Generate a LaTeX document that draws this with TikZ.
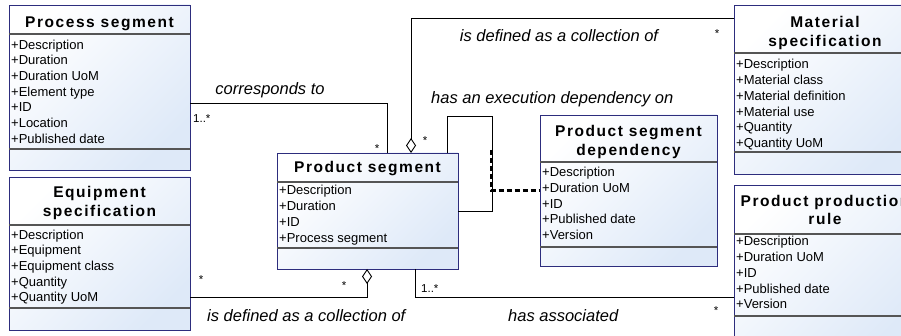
\documentclass[tikz,border=0pt]{standalone}
\usepackage{fontspec}
\setmainfont{Liberation Sans}
\newfontfamily\ttlface{Liberation Sans}[LetterSpace=10]
\usetikzlibrary{arrows.meta}
\definecolor{boxline}{RGB}{45,45,125}
\definecolor{boxblue}{RGB}{222,233,248}
\definecolor{sepgray}{RGB}{85,85,85}
\begin{document}
\begin{tikzpicture}[x=1pt,y=-1pt,
  classbox/.style={draw=boxline, line width=0.9pt, top color=white, bottom color=boxblue, shading angle=45, inner sep=0pt, outer sep=0pt, anchor=north west},
  ttl/.style={font=\ttlface\bfseries\fontsize{15.5}{18}\selectfont, anchor=base, inner sep=0pt},
  attr/.style={font=\fontsize{13}{15}\selectfont, anchor=base west, inner sep=0pt},
  lbl/.style={font=\itshape\fontsize{16.5}{19}\selectfont, anchor=base, inner sep=0pt},
  mult/.style={font=\fontsize{11.5}{13}\selectfont, inner sep=0pt},
  sepline/.style={draw=sepgray, line width=1.1pt},
  conn/.style={draw=black, line width=0.9pt},
  agg/.style={conn, -{Diamond[open, length=15pt, width=10pt, line width=0.9pt]}},
  dep/.style={draw=black, line width=2.2pt, dash pattern=on 5pt off 3pt},
]
\useasboundingbox (0,0) rectangle (901,336);
\clip (0,0) rectangle (901,336);

% ---------- Process segment ----------
\node[classbox, minimum width=181pt, minimum height=165pt] (ps) at (9,5) {};
\node[ttl] (ps-t) at (99.5,28) {Process segment};
\draw[sepline] (ps.west |- 0,34) -- (ps.east |- 0,34);
\foreach \t [count=\i from 0] in {+Description,+Duration,+Duration UoM,+Element type,+ID,+Location,+Published date}
  \node[attr] (ps-a\i) at (11,49.3+15.67*\i) {\t};
\draw[sepline] (ps.west |- 0,149) -- (ps.east |- 0,149);

% ---------- Equipment specification ----------
\node[classbox, minimum width=181pt, minimum height=153pt] (es) at (9,177) {};
\node[ttl] (es-t1) at (99.5,198) {Equipment};
\node[ttl] (es-t2) at (99.5,217) {specification};
\draw[sepline] (es.west |- 0,225) -- (es.east |- 0,225);
\foreach \t [count=\i from 0] in {+Description,+Equipment,+Equipment class,+Quantity,+Quantity UoM}
  \node[attr] (es-a\i) at (11,239.3+15.67*\i) {\t};
\draw[sepline] (es.west |- 0,308) -- (es.east |- 0,308);

% ---------- Product segment ----------
\node[classbox, minimum width=181pt, minimum height=116pt] (pseg) at (277,153) {};
\node[ttl] (pseg-t) at (367.5,173) {Product segment};
\draw[sepline] (pseg.west |- 0,182) -- (pseg.east |- 0,182);
\foreach \t [count=\i from 0] in {+Description,+Duration,+ID,+Process segment}
  \node[attr] (pseg-a\i) at (279,195+15.67*\i) {\t};
\draw[sepline] (pseg.west |- 0,248) -- (pseg.east |- 0,248);

% ---------- Product segment dependency ----------
\node[classbox, minimum width=177pt, minimum height=151pt] (dep) at (540,115) {};
\node[ttl] (dep-t1) at (628.5,137) {Product segment};
\node[ttl] (dep-t2) at (628.5,156) {dependency};
\draw[sepline] (dep.west |- 0,162) -- (dep.east |- 0,162);
\foreach \t [count=\i from 0] in {+Description,+Duration UoM,+ID,+Published date,+Version}
  \node[attr] (dep-a\i) at (542,176.7+15.67*\i) {\t};
\draw[sepline] (dep.west |- 0,247) -- (dep.east |- 0,247);

% ---------- Material specification ----------
\node[classbox, minimum width=182pt, minimum height=169pt] (mat) at (734,5) {};
\node[ttl] (mat-t1) at (825,28) {Material};
\node[ttl] (mat-t2) at (825,47) {specification};
\draw[sepline] (mat.west |- 0,53) -- (mat.east |- 0,53);
\foreach \t [count=\i from 0] in {+Description,+Material class,+Material definition,+Material use,+Quantity,+Quantity UoM}
  \node[attr] (mat-a\i) at (736,69+15.67*\i) {\t};
\draw[sepline] (mat.west |- 0,152) -- (mat.east |- 0,152);

% ---------- Product production rule ----------
\node[classbox, minimum width=182pt, minimum height=170pt] (prr) at (734,185) {};
\node[ttl] (prr-t1) at (825,207) {Product production};
\node[ttl] (prr-t2) at (825,225) {rule};
\draw[sepline] (prr.west |- 0,234) -- (prr.east |- 0,234);
\foreach \t [count=\i from 0] in {+Description,+Duration UoM,+ID,+Published date,+Version}
  \node[attr] (prr-a\i) at (736,246+15.67*\i) {\t};
\draw[sepline] (prr.west |- 0,316) -- (prr.east |- 0,316);

% ---------- connectors ----------
% corresponds to
\draw[conn] (ps.east |- 0,103) -| (pseg.north -| 387,0);
\node[lbl] (l-corr) at (270,95) {corresponds to};
\node[mult, anchor=base west] (m-ps) at (193,123) {1..*};
\node[mult] (m-pseg1) at (377,149) {*};

% material aggregation
\draw[agg] (mat.west |- 0,18) -| (pseg.north -| 411,0);
\node[lbl] (l-mat) at (559,42) {is defined as a collection of};
\node[mult] (m-mat) at (717,34) {*};
\node[mult] (m-pseg2) at (425,141) {*};

% execution dependency self loop
\draw[conn] (pseg.north -| 447,0) |- (492,116) |- (pseg.east);
\node[lbl, anchor=base west] (l-exe) at (431,104) {has an execution dependency on};
\draw[dep] (491,150) |- (dep.west);

% equipment aggregation
\draw[agg] (es.east |- 0,297) -| (pseg.south -| 367,0);
\node[lbl, anchor=base west] (l-eq) at (207,321) {is defined as a collection of};
\node[mult] (m-es) at (201,280) {*};
\node[mult] (m-pseg3) at (344,286) {*};

% has associated
\draw[conn] (pseg.south -| 415,0) |- (prr.west |- 0,297);
\node[lbl, anchor=base west] (l-has) at (508,321) {has associated};
\node[mult, anchor=base west] (m-pseg4) at (421,292) {1..*};
\node[mult] (m-prr) at (716,311) {*};
\end{tikzpicture}
\end{document}
